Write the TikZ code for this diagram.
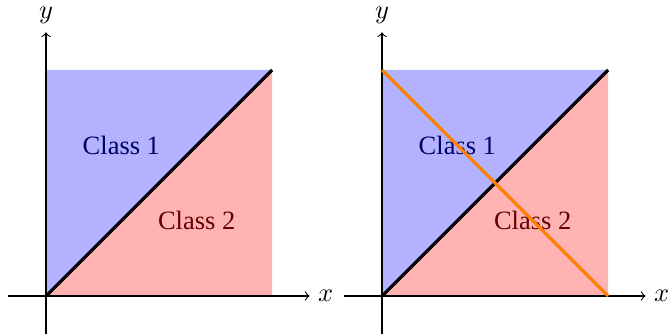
\documentclass[tikz,border=0pt]{standalone}
\usepackage{fontspec}
\setmainfont{Liberation Serif}
\begin{document}
\begin{tikzpicture}
\tikzset{
  axis/.style={->},
  sep/.style={very thick, black},
  sep2/.style={very thick, orange},
  lab1/.style={text=blue!40!black},
  lab2/.style={text=red!40!black}
}
\useasboundingbox (-0.611,-0.518) rectangle (8.283,3.929);
\foreach \s/\n in {0/L,4.46/R}{
\begin{scope}[xshift=\s cm]
  \fill[blue!30] (0,0) -- (0,3) -- (3,3) -- cycle;
  \fill[red!30] (0,0) -- (3,0) -- (3,3) -- cycle;
  \coordinate (o\n) at (0,0);
  \coordinate (tr\n) at (3,3);
  \node[lab1] (c1\n) at (1,2) {Class 1};
  \node[lab2] (c2\n) at (2,1) {Class 2};
  \coordinate (xs\n) at (-0.5,0);
  \coordinate (ys\n) at (0,-0.5);
  \node[inner sep=0pt, right=3pt] (xl\n) at (3.5,0) {$x$};
  \node[inner sep=0pt, above=3pt] (yl\n) at (0,3.5) {$y$};
  \draw[axis] (xs\n) -- (3.5,0);
  \draw[axis] (ys\n) -- (0,3.5);
  \draw[sep] (o\n) -- (tr\n);
\end{scope}
}
\coordinate (a) at (4.46,3);
\coordinate (b) at (7.46,0);
\draw[sep2] (a) -- (b);
\end{tikzpicture}
\end{document}
